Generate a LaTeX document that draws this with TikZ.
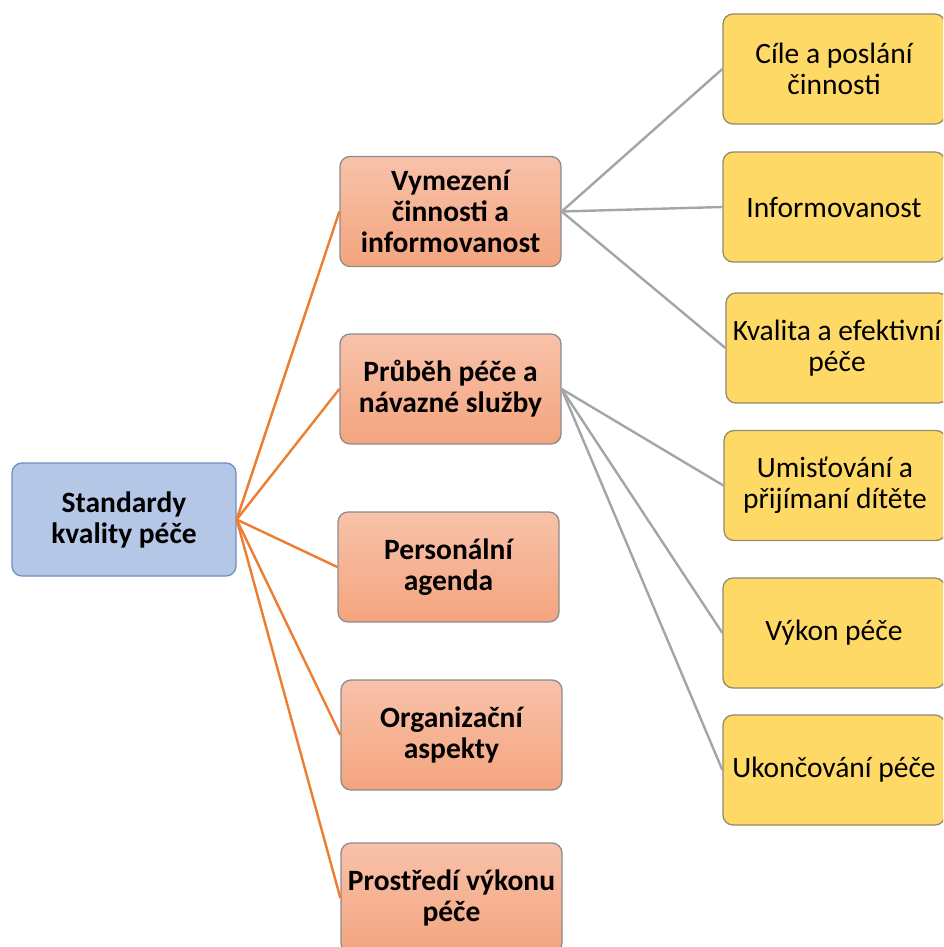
\documentclass[tikz,border=0pt]{standalone}
\usepackage{fontspec}
\setmainfont{Carlito}
\definecolor{rootfill}{HTML}{B4C7E7}
\definecolor{rootline}{HTML}{6F8FBF}
\definecolor{midtop}{HTML}{F8C2AA}
\definecolor{midbot}{HTML}{F4A47E}
\definecolor{midline}{HTML}{8C8C8C}
\definecolor{leaffill}{HTML}{FFD966}
\definecolor{leafline}{HTML}{948A6A}
\definecolor{orangeline}{HTML}{ED7D31}
\definecolor{grayline}{HTML}{A5A5A5}
\tikzset{
  box/.style={rectangle, rounded corners=10pt, line width=1.3pt, align=center,
    font=\fontsize{29.5pt}{31pt}\selectfont, inner sep=2pt},
  rootbox/.style={box, fill=rootfill, draw=rootline, font=\fontsize{29.5pt}{31pt}\selectfont\bfseries,
    minimum width=224pt, minimum height=113pt},
  midbox/.style={box, top color=midtop, bottom color=midbot, draw=midline,
    font=\fontsize{29.5pt}{31pt}\selectfont\bfseries, minimum width=221pt, minimum height=110pt},
  leafbox/.style={box, fill=leaffill, draw=leafline, minimum width=222pt, minimum height=110pt},
  trunk/.style={draw=orangeline, line width=2.4pt},
  branch/.style={draw=grayline, line width=2.4pt},
}
\begin{document}
\begin{tikzpicture}[x=1pt,y=-1pt]
  \clip (0,0) rectangle (943,947);
  % central topic
  \node[rootbox] (root) at (124,519.5) {Standardy\\kvality péče};
  % second level
  \node[midbox] (m1) at (450.5,211.5) {Vymezení\\činnosti a\\informovanost};
  \node[midbox] (m2) at (450.5,389) {Průběh péče a\\návazné služby};
  \node[midbox] (m3) at (448.5,567) {Personální\\agenda};
  \node[midbox] (m4) at (451.5,735) {Organizační\\aspekty};
  \node[midbox] (m5) at (451.5,898) {Prostředí výkonu\\péče};
  % third level
  \node[leafbox] (l1) at (834,69) {Cíle a poslání\\činnosti};
  \node[leafbox] (l2) at (834,207) {Informovanost};
  \node[leafbox] (l3) at (837,348) {Kvalita a efektivní\\péče};
  \node[leafbox] (l4) at (835,485.5) {Umisťování a\\přijímaní dítěte};
  \node[leafbox] (l5) at (834,633) {Výkon péče};
  \node[leafbox] (l6) at (834,770) {Ukončování péče};
  % connectors
  \foreach \m in {m1,m2,m3,m4,m5}
    \draw[trunk] (root.east) -- (\m.west);
  \foreach \l in {l1,l2,l3}
    \draw[branch] (m1.east) -- (\l.west);
  \foreach \l in {l4,l5,l6}
    \draw[branch] (m2.east) -- (\l.west);
\end{tikzpicture}
\end{document}
